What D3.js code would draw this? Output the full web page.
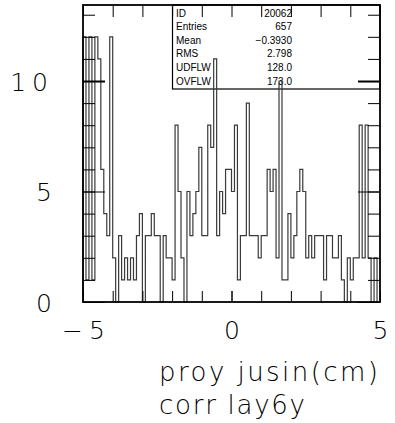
<!DOCTYPE html>
<html><head><meta charset="utf-8">
<script src="https://cdn.jsdelivr.net/npm/d3@7"></script>
<style>
html,body{margin:0;padding:0;background:#fff;}
svg{display:block;}
.lbl{font-family:"DejaVu Sans ExtraLight","DejaVu Sans",sans-serif;font-weight:200;fill:#000;}
.st{font-family:"Liberation Sans",Arial,sans-serif;font-size:10px;fill:#000;}
</style></head>
<body>
<svg id="c" width="395" height="423"></svg>
<script>
// ---- data ----
const xRange = [-5, 5];
const binCounts = [
 12,1,12,1,12,11,6,4,3,12,
 2,0,3,1,2,1,2,1,3,4,
 0,3,3,4,3,3,0,3,2,2,
 1,8,5,2,0,5,3,4,5,7,
 3,3,8,7,11,3,5,4,6,6,
 5,8,1,3,3,9,3,3,3,2,
 3,3,6,5,6,2,10,1,1,4,
 2,3,5,6,5,2,3,2,3,3,
 3,1,3,3,2,2,3,1,0,2,
 1,2,2,8,2,8,2,0,2,0
];
const xTickLabels = [-5, 0, 5];
const yTickLabels = [0, 5, 10];
const statNames = ["ID","Entries","Mean","RMS","UDFLW","OVFLW"];
const statValues = ["20062","657","\u22120.3930","2.798","128.0","173.0"];
const xTitle = "proy jusin(cm)";
const xSubtitle = "corr lay6y";

// ---- layout ----
const svg = d3.select("#c");
const L = 83, R = 380, T = 5, B = 302;
const x = d3.scaleLinear().domain(xRange).range([L, R]);
const y = d3.scaleLinear().domain([0, 13.44]).range([B, T]);
const nb = binCounts.length;
const bw = (xRange[1]-xRange[0])/nb;
const binLeft = d3.range(nb).map(i => xRange[0] + i*bw);

// stats box
const bx0 = 172.5;
svg.append("rect").attr("x", bx0).attr("y", T).attr("width", R-bx0).attr("height", 89-T)
  .attr("fill","none").attr("stroke","#000").attr("stroke-width",1.2);
statNames.forEach((n,i)=>{
  const by = 16.5 + i*13.6;
  svg.append("text").attr("class","st").attr("x",176).attr("y",by).text(n);
  svg.append("text").attr("class","st").attr("x",292).attr("y",by).attr("text-anchor","end").text(statValues[i]);
});

// histogram outline
const pts = [{x:xRange[0], v:0}];
binCounts.forEach((c,i)=>{ pts.push({x:binLeft[i], v:c}); pts.push({x:binLeft[i]+bw, v:c}); });
pts.push({x:xRange[1], v:0});
svg.append("path").datum(pts)
  .attr("d", d3.line().x(d=>x(d.x)).y(d=>y(d.v)))
  .attr("fill","none").attr("stroke","#3a3a3a").attr("stroke-width",1.2);

// axes ticks
const minorY = d3.range(0,14);
const minorX = d3.range(-5,6);
function styleAxis(g){ g.select(".domain").remove(); g.selectAll("line").attr("stroke","#000"); }
svg.append("g").attr("transform",`translate(${L},0)`)
  .call(d3.axisLeft(y).tickValues(minorY).tickSize(-12).tickFormat(""))
  .call(styleAxis);
svg.append("g").attr("transform",`translate(${R},0)`)
  .call(d3.axisRight(y).tickValues(minorY).tickSize(-12).tickFormat(""))
  .call(styleAxis);
svg.append("g").attr("transform",`translate(0,${T})`)
  .call(d3.axisTop(x).tickValues(minorX).tickSize(-12).tickFormat(""))
  .call(styleAxis);
svg.append("g").attr("transform",`translate(0,${B})`)
  .call(d3.axisBottom(x).tickValues(minorX).tickSize(-11).tickFormat(""))
  .call(styleAxis);
// major ticks + labels
const yl = svg.append("g").attr("transform",`translate(${L},0)`)
  .call(d3.axisLeft(y).tickValues(yTickLabels).tickSize(-22).tickPadding(31))
  .call(styleAxis);
yl.selectAll("line").attr("stroke-width", d=> d===10?2:1);
yl.selectAll("text").attr("class","lbl").attr("font-size",null).style("font-size","25px").attr("dy","0.36em")
  .filter(d=>d>=10).style("letter-spacing","6px").attr("dx","2");
const yr = svg.append("g").attr("transform",`translate(${R},0)`)
  .call(d3.axisRight(y).tickValues(yTickLabels).tickSize(-22).tickFormat(""))
  .call(styleAxis);
yr.selectAll("line").attr("stroke-width", d=> d===10?2:1);
const xl = svg.append("g").attr("transform",`translate(0,${B})`)
  .call(d3.axisBottom(x).tickValues(xTickLabels).tickSize(-11).tickPadding(19))
  .call(styleAxis);
xl.selectAll("text").attr("class","lbl").style("font-size","25px")
  .filter(d=>d<0).style("letter-spacing","6px").attr("dx","3");

// frame
svg.append("rect").attr("x",L).attr("y",T).attr("width",R-L).attr("height",B-T)
  .attr("fill","none").attr("stroke","#000").attr("stroke-width",1.8);

// titles
svg.append("text").attr("class","lbl").attr("x",159).attr("y",381)
  .style("font-size","26px").attr("textLength",219).attr("lengthAdjust","spacing").text(xTitle);
svg.append("text").attr("class","lbl").attr("x",159).attr("y",414)
  .style("font-size","26px").attr("textLength",146).attr("lengthAdjust","spacing").text(xSubtitle);
</script>
</body></html>
